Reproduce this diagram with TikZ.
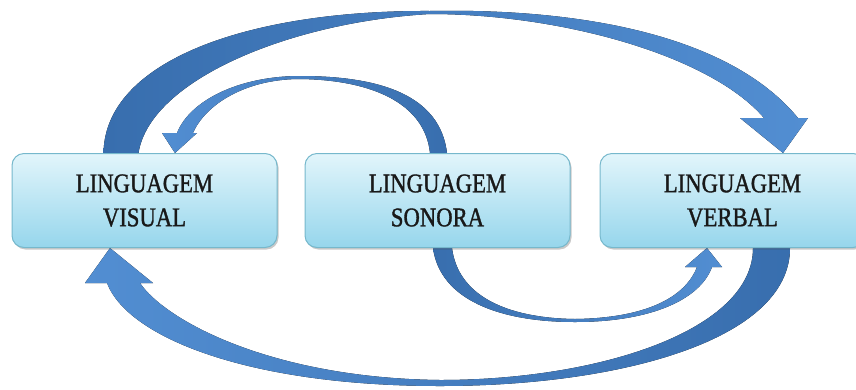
\documentclass[tikz,border=0pt]{standalone}
\usepackage{fontspec}
\usepackage{tikz}
\usetikzlibrary{calc,shadows,backgrounds}
\newfontfamily\boxfont{Liberation Serif}[FakeStretch=0.84,FakeBold=1.2]
\definecolor{boxtop}{RGB}{226,245,251}
\definecolor{boxbot}{RGB}{150,214,236}
\definecolor{boxline}{RGB}{118,184,204}
\definecolor{arrowdark}{RGB}{56,110,174}
\definecolor{arrowlight}{RGB}{82,142,210}
\tikzset{
  langbox/.style={rounded corners=12pt, draw=boxline, line width=1pt,
    top color=boxtop, bottom color=boxbot,
    minimum width=265pt, minimum height=94pt, align=center,
    text=black!90, font=\boxfont\fontsize{27}{34}\selectfont,
    drop shadow={shadow xshift=1.5pt, shadow yshift=-2pt, opacity=0.3, fill=black!70}},
  flowleft/.style={left color=arrowdark, right color=arrowlight},
  flowright/.style={left color=arrowlight, right color=arrowdark}
}

\begin{document}
\begin{tikzpicture}[x=1pt, y=-1pt]
    \useasboundingbox (0,0) rectangle (856,389);

    % Boxes
    \node[langbox] (visual) at (144.5,200.5) {LINGUAGEM\\VISUAL};
    \node[langbox] (sonora) at (437.5,200.5) {LINGUAGEM\\SONORA};
    \node[langbox] (verbal) at (732.5,200.5) {LINGUAGEM\\VERBAL};

    \begin{scope}[on background layer]
    % Visual -> Verbal (top, large)
    \fill[flowleft]
        ($(visual.north)+(-41,0)$) .. controls (105,60) and (250,10) .. (430,11)
        .. controls (580,8) and (730,35) .. (798,118)
        -- (808,118) -- ($(verbal.north)+(50.5,0)$) -- (740,118) -- (764,118)
        .. controls (710,55) and (560,14) .. (430,14)
        .. controls (290,22) and (150,80) .. ($(visual.north)+(-6,0)$) -- cycle;

    % Sonora -> Visual (top, small)
    \fill[flowright]
        ($(sonora.north)+(9.5,0)$) .. controls (440,95) and (380,76) .. (300,76)
        .. controls (240,76) and (190,100) .. (177,133)
        -- (162,133) -- ($(visual.north)+(30.5,0)$) -- (197,133) -- (193,133)
        .. controls (205,105) and (245,79) .. (300,79)
        .. controls (375,80) and (425,105) .. ($(sonora.north)+(-7.5,0)$) -- cycle;

    % Sonora -> Verbal (bottom, small)
    \fill[flowleft]
        ($(sonora.south)+(-4.5,0)$) .. controls (440,300) and (500,322) .. (575,322)
        .. controls (650,322) and (700,300) .. (712,267)
        -- (722,267) -- ($(verbal.south)+(-25.5,0)$) -- (685,267) -- (697,267)
        .. controls (685,298) and (645,318) .. (575,319)
        .. controls (505,318) and (458,295) .. ($(sonora.south)+(14.5,0)$) -- cycle;

    % Verbal -> Visual (bottom, large)
    \fill[flowright]
        ($(verbal.south)+(57.5,0)$) .. controls (790,340) and (620,386) .. (440,386)
        .. controls (250,386) and (128,338) .. (107,283)
        -- (85,283) -- ($(visual.south)+(-34.5,0)$) -- (153,283) -- (140,283)
        .. controls (165,320) and (270,378) .. (440,380)
        .. controls (600,380) and (753,330) .. ($(verbal.south)+(20.5,0)$) -- cycle;
    \end{scope}
\end{tikzpicture}
\end{document}
